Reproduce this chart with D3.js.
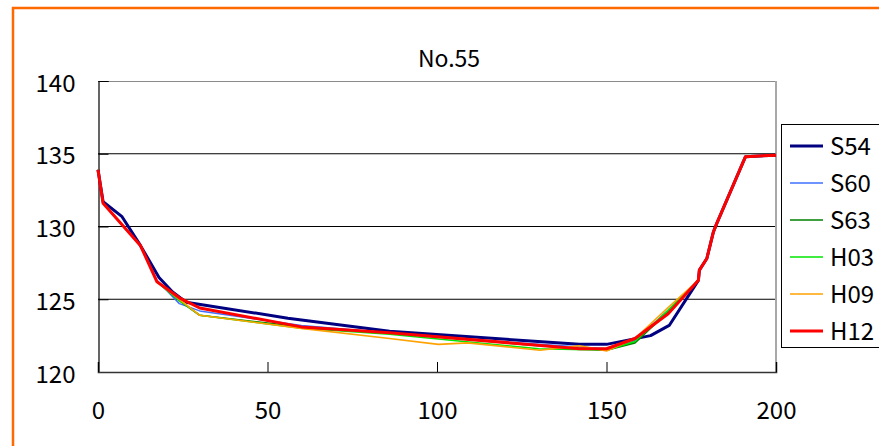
<!DOCTYPE html>
<html>
<head>
<meta charset="utf-8">
<script src="https://cdn.jsdelivr.net/npm/d3@7"></script>
<style>
  html, body { margin: 0; padding: 0; background: #fff; }
  svg { display: block; }
  text { font-family: "Noto Sans CJK JP", "Noto Sans", sans-serif; fill: #000; }
</style>
</head>
<body>
<svg id="chart" width="879" height="446"></svg>
<script>
// Cross-section No.55: ground elevation against distance, one line per survey year
const title = "No.55";
const seriesNames = ["S54", "S60", "S63", "H03", "H09", "H12"];
const seriesColors = ["#000080", "#3f6fff", "#008000", "#00e600", "#ffa200", "#ff0000"];
const seriesWidths = [3, 1.5, 1.6, 1.5, 1.6, 3];

const xTicks = [0, 50, 100, 150, 200];
const yTicks = [120, 125, 130, 135, 140];

// distance (m) and elevation for each survey
const xS54 = [0, 1.5, 7, 12.5, 18, 22, 26, 56, 86, 142, 150, 163, 168.5, 177.1, 177.4, 179.6, 181.5, 182.5, 191, 200];
const yS54 = [133.9, 131.7, 130.7, 128.7, 126.5, 125.5, 124.8, 123.7, 122.8, 121.9, 121.9, 122.5, 123.2, 126.3, 127.0, 127.8, 129.6, 130.2, 134.8, 134.9];

const xS60 = [0, 1.5, 12.5, 17.4, 24, 30, 60, 100, 130, 150, 158, 168, 177.1, 177.4, 179.6, 181.5, 182.5, 191, 200];
const yS60 = [133.9, 131.6, 128.7, 126.3, 124.7, 124.2, 123.2, 122.4, 121.9, 121.6, 122.1, 124.2, 126.3, 127.0, 127.8, 129.6, 130.2, 134.8, 134.9];

const xS63 = [0, 1.5, 12.5, 17.4, 24, 30, 60, 86, 130, 150, 158.4, 168, 177.1, 177.4, 179.6, 181.5, 182.5, 191, 200];
const yS63 = [133.9, 131.6, 128.7, 126.2, 124.9, 123.9, 123.1, 122.7, 121.8, 121.5, 122.0, 124.1, 126.3, 127.0, 127.8, 129.6, 130.2, 134.8, 134.9];

const xH03 = [0, 1.5, 12.5, 17.4, 24, 30, 60, 86, 130, 150, 158.4, 168, 177.1, 177.4, 179.6, 181.5, 182.5, 191, 200];
const yH03 = [133.9, 131.6, 128.7, 126.2, 124.9, 123.9, 123.0, 122.6, 121.6, 121.5, 122.1, 124.2, 126.3, 127.0, 127.8, 129.6, 130.2, 134.8, 134.9];

const xH09 = [0, 1.5, 12.5, 17.4, 24, 30, 60, 86, 100.4, 109, 130.4, 142, 150, 158.4, 168, 177.1, 177.4, 179.6, 181.5, 182.5, 191, 200];
const yH09 = [133.9, 131.6, 128.7, 126.2, 125.0, 123.9, 123.0, 122.3, 121.9, 122.0, 121.5, 121.8, 121.45, 122.3, 124.4, 126.3, 127.0, 127.8, 129.6, 130.2, 134.8, 134.9];

const xH12 = [0, 1.5, 12.5, 17.4, 24, 30, 60, 86, 142, 150, 158.4, 168.2, 177.1, 177.4, 179.6, 181.5, 182.5, 191, 200];
const yH12 = [133.9, 131.6, 128.7, 126.2, 125.1, 124.4, 123.1, 122.7, 121.6, 121.6, 122.3, 124.0, 126.3, 127.0, 127.8, 129.6, 130.2, 134.8, 134.9];

const seriesX = [xS54, xS60, xS63, xH03, xH09, xH12];
const seriesY = [yS54, yS60, yS63, yH03, yH09, yH12];

const svg = d3.select("#chart");

// outer frame of the chart sheet
svg.append("rect")
  .attr("x", 13).attr("y", 8)
  .attr("width", 900).attr("height", 500)
  .attr("fill", "#fff")
  .attr("stroke", "#ff6a00").attr("stroke-width", 2.5);

const plot = { left: 98, right: 776, top: 81, bottom: 372 };

const x = d3.scaleLinear().domain([0, 200]).range([plot.left, plot.right]);
const y = d3.scaleLinear().domain([120, 140]).range([plot.bottom, plot.top]);

// gridlines
svg.append("g")
  .selectAll("line")
  .data(yTicks.filter(v => v > 120 && v < 140))
  .join("line")
  .attr("x1", plot.left).attr("x2", plot.right)
  .attr("y1", d => y(d)).attr("y2", d => y(d))
  .attr("stroke", "#000").attr("stroke-width", 1);

// plot frame: top and right edges
svg.append("line")
  .attr("x1", plot.left).attr("x2", plot.right)
  .attr("y1", plot.top + 0.5).attr("y2", plot.top + 0.5)
  .attr("stroke", "#8a8a8a").attr("stroke-width", 1);
svg.append("line")
  .attr("x1", plot.right).attr("x2", plot.right)
  .attr("y1", plot.top).attr("y2", plot.bottom)
  .attr("stroke", "#a8a8a8").attr("stroke-width", 2);

// axes with inward ticks
const yAxis = d3.axisLeft(y).tickValues(yTicks).tickSize(-10).tickPadding(23).tickFormat(d3.format("d"));
const xAxis = d3.axisBottom(x).tickValues(xTicks).tickSize(-10).tickPadding(30).tickFormat(d3.format("d"));

const gy = svg.append("g").attr("transform", `translate(${plot.left + 0.5},0)`).call(yAxis);
const gx = svg.append("g").attr("transform", `translate(0,${plot.bottom})`).call(xAxis);

gy.select(".domain").attr("stroke", "#000").attr("stroke-width", 1.2);
gy.selectAll(".tick line").attr("stroke", "#000");
gx.select(".domain").attr("stroke", "#333").attr("stroke-width", 1.6);
gx.selectAll(".tick line").attr("stroke", "#000");
[gx, gy].forEach(g => g.selectAll(".tick text")
  .style("font-family", '"Noto Sans CJK JP", "Noto Sans", sans-serif')
  .attr("font-size", 24).attr("fill", "#000"));
gy.selectAll(".tick text").attr("dy", "0.42em");

// survey lines
const line = d3.line().x(d => x(d[0])).y(d => y(d[1]));
seriesNames.forEach((name, i) => {
  const pts = seriesX[i].map((xv, j) => [xv, seriesY[i][j]]);
  svg.append("path")
    .datum(pts)
    .attr("fill", "none")
    .attr("stroke", seriesColors[i])
    .attr("stroke-width", seriesWidths[i])
    .attr("stroke-linejoin", "round")
    .attr("d", line);
});

// title
svg.append("text")
  .attr("x", 449).attr("y", 67)
  .attr("text-anchor", "middle")
  .attr("font-size", 23)
  .text(title);

// legend
const legend = svg.append("g");
legend.append("rect")
  .attr("x", 781.5).attr("y", 124.5)
  .attr("width", 120).attr("height", 223)
  .attr("fill", "#fff").attr("stroke", "#000").attr("stroke-width", 1);
const rows = legend.selectAll("g.row")
  .data(seriesNames)
  .join("g")
  .attr("class", "row")
  .attr("transform", (d, i) => `translate(0,${146 + i * 37})`);
rows.append("line")
  .attr("x1", 790).attr("x2", 823)
  .attr("stroke", (d, i) => seriesColors[i])
  .attr("stroke-width", (d, i) => seriesWidths[i]);
rows.append("text")
  .attr("x", 830).attr("dy", "0.38em")
  .attr("font-size", 24)
  .text(d => d);
</script>
</body>
</html>
